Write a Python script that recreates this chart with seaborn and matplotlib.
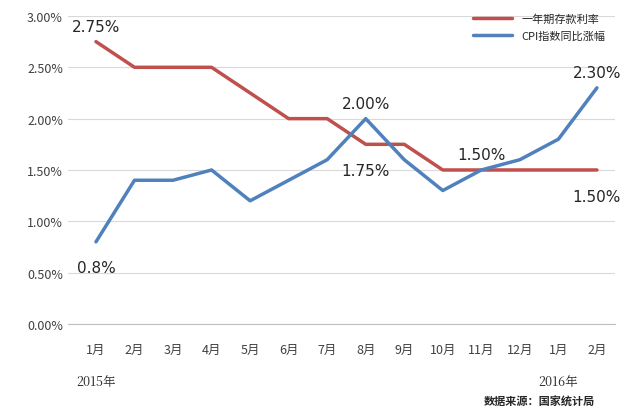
import numpy as np
import pandas as pd
import matplotlib
matplotlib.use("Agg")
import matplotlib.pyplot as plt
import seaborn as sns
from matplotlib.ticker import PercentFormatter

# --- data ---
months = ['1月', '2月', '3月', '4月', '5月', '6月', '7月', '8月', '9月',
          '10月', '11月', '12月', '1月', '2月']
deposit_rate = [2.75, 2.5, 2.5, 2.5, 2.25, 2.0, 2.0, 1.75, 1.75, 1.5, 1.5, 1.5, 1.5, 1.5]
cpi_growth = [0.8, 1.4, 1.4, 1.5, 1.2, 1.4, 1.6, 2.0, 1.6, 1.3, 1.5, 1.6, 1.8, 2.3]

sns.set_style("white")
plt.rcParams['font.family'] = ['Noto Sans CJK SC', 'DejaVu Sans']

df = pd.DataFrame({'x': np.arange(len(months)),
                   '一年期存款利率': deposit_rate,
                   'CPI指数同比涨幅': cpi_growth})
long_df = df.melt(id_vars='x', var_name='series', value_name='value')

fig = plt.figure(figsize=(6.4, 4.14), dpi=100)
ax = fig.add_axes([0.106, 0.215, 0.855, 0.744])

palette = {'一年期存款利率': '#C0504D', 'CPI指数同比涨幅': '#4F81BD'}
sns.lineplot(data=long_df, x='x', y='value', hue='series', palette=palette,
             linewidth=2.5, ax=ax)

ax.set_ylim(0, 3.0)
ax.set_yticks(np.arange(0, 3.01, 0.5))
ax.yaxis.set_major_formatter(PercentFormatter(decimals=2))
ax.set_xlim(-0.73, 13.47)
ax.set_xticks(df['x'])
ax.set_xticklabels(months)
ax.set_xlabel('')
ax.set_ylabel('')
ax.grid(axis='y', color='#D9D9D9', linewidth=0.8)
for s in ['top', 'right', 'left']:
    ax.spines[s].set_visible(False)
ax.spines['bottom'].set_color('#BFBFBF')
ax.tick_params(axis='both', labelsize=9, colors='#404040', length=0)
ax.tick_params(axis='x', pad=14)

# year labels under the January ticks
for i, yr in [(0, '2015年'), (12, '2016年')]:
    ax.annotate(yr, xy=(i, 0), xytext=(0, -44), textcoords='offset points',
                ha='center', fontsize=9, color='#262626',
                family=['Noto Serif CJK SC', 'DejaVu Serif', 'Noto Sans CJK SC'])

# point labels
labels = [(0, 2.75, '2.75%', 8), (0, 0.8, '0.8%', -22), (7, 2.0, '2.00%', 8),
          (7, 1.75, '1.75%', -22), (10, 1.5, '1.50%', 8), (13, 2.3, '2.30%', 8),
          (13, 1.5, '1.50%', -22)]
for x, y, t, dy in labels:
    ax.annotate(t, xy=(x, y), xytext=(0, dy), textcoords='offset points',
                ha='center', fontsize=11, color='#262626', family='DejaVu Sans')

ax.legend(loc='upper right', bbox_to_anchor=(1.0, 1.04), frameon=False,
          fontsize=8, handlelength=3.5, labelspacing=0.6)

fig.text(0.93, 0.02, '数据来源：国家统计局', ha='right', fontsize=8,
         fontweight='bold', color='#262626')

plt.savefig('out.png', dpi=100)
plt.close()
